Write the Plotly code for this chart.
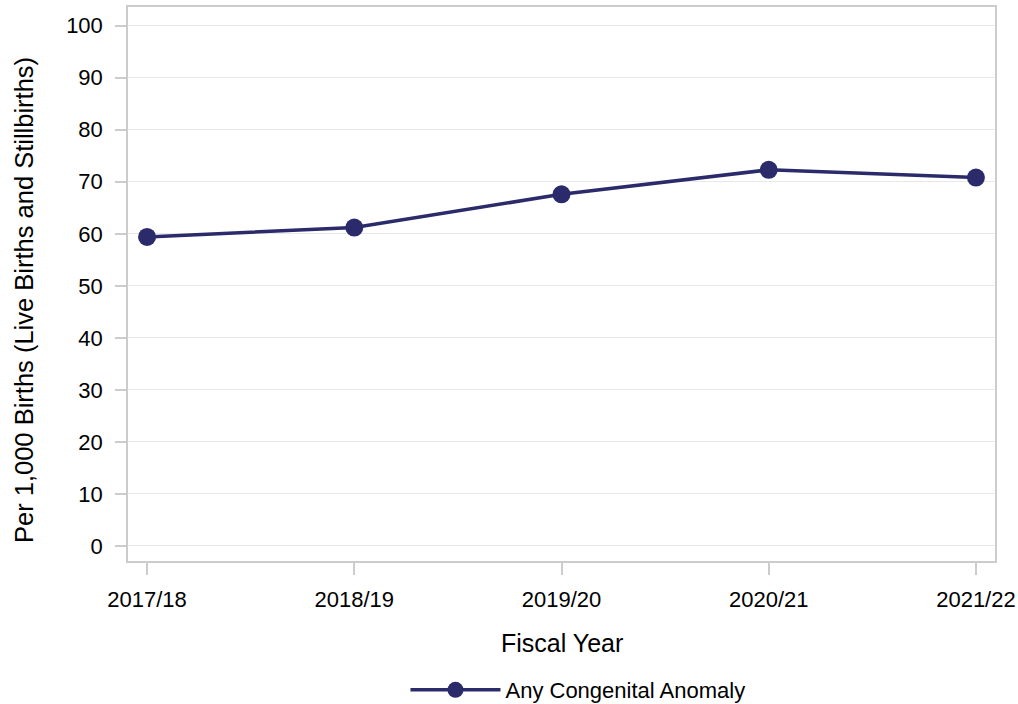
import plotly.graph_objects as go

years = ["2017/18", "2018/19", "2019/20", "2020/21", "2021/22"]
rates = [59.4, 61.2, 67.6, 72.3, 70.8]
series_name = "Any Congenital Anomaly"
x_title = "Fiscal Year"
y_title = "Per 1,000 Births (Live Births and Stillbirths)"

color = "#2b2a6b"
fig = go.Figure()
fig.add_trace(go.Scatter(
    x=years, y=rates, mode="lines+markers", name=series_name,
    line=dict(color=color, width=3.5),
    marker=dict(color=color, size=18),
))

fig.update_layout(
    width=1018, height=724,
    margin=dict(l=128, r=23, t=7, b=163),
    paper_bgcolor="white", plot_bgcolor="white",
    font=dict(family="Arial, Liberation Sans, sans-serif", size=22, color="black"),
    showlegend=True,
    legend=dict(orientation="h", x=0.519, xanchor="center", y=-0.2329, yanchor="middle",
                font=dict(size=22), itemwidth=90),
    xaxis=dict(
        type="category", range=[-0.092, 4.092], automargin=False,
        showline=True, linecolor="#cccccc", linewidth=1.5, mirror=True,
        ticks="outside", ticklen=12, tickcolor="#cccccc", tickwidth=1.5,
        showgrid=False, ticklabelstandoff=6,
        tickfont=dict(size=22),
    ),
    yaxis=dict(
        range=[-2.9, 103.6], tickvals=list(range(0, 101, 10)), automargin=False,
        showline=True, linecolor="#cccccc", linewidth=1.5, mirror=True,
        ticks="outside", ticklen=11, tickcolor="#cccccc", tickwidth=1.5,
        showgrid=True, gridcolor="#e8e8e8", gridwidth=1, zeroline=False,
        ticklabelstandoff=8,
        tickfont=dict(size=22),
    ),
    annotations=[
        dict(text=x_title, xref="paper", yref="paper", x=0.5, y=-0.148,
             xanchor="center", yanchor="middle", showarrow=False, font=dict(size=25)),
        dict(text=y_title, xref="paper", yref="paper", x=-0.12, y=0.471,
             xanchor="center", yanchor="middle", textangle=-90, showarrow=False,
             font=dict(size=25.5)),
    ],
)

fig.write_html(
    "out.html",
    config={"displayModeBar": False},
    post_script="document.body.style.margin='0';document.body.style.overflow='hidden';",
)
